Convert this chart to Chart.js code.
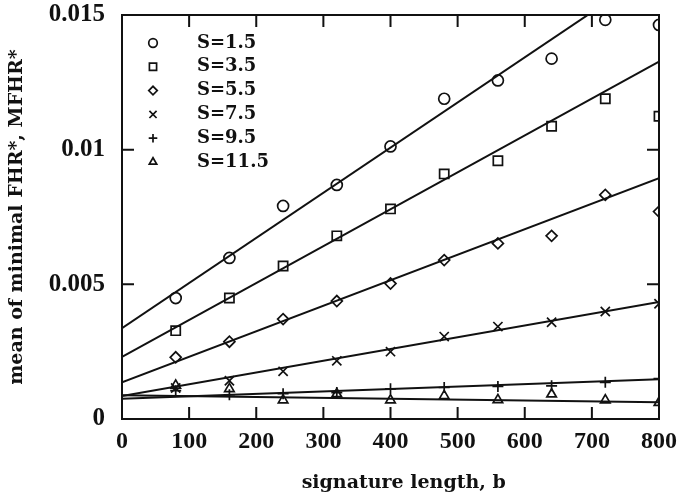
<!DOCTYPE html>
<html>
<head>
<meta charset="utf-8">
<script src="https://cdn.jsdelivr.net/npm/chart.js@4.4.0/dist/chart.umd.min.js"></script>
<style>
  html, body { margin: 0; padding: 0; background: #fff; }
  #wrap { width: 678px; height: 499px; }
</style>
</head>
<body>
<div id="wrap"><canvas id="chart-mfhr"></canvas></div>
<script>
// signature length b
var bValues = [80, 160, 240, 320, 400, 480, 560, 640, 720, 800];

// measured mean of minimal FHR*, one list per S
var s15 = [0.00449, 0.00598, 0.00791, 0.00869, 0.01012, 0.01189, 0.01257, 0.01338, 0.01482, 0.01463];
var s35 = [0.00328, 0.00449, 0.00568, 0.00680, 0.00780, 0.00910, 0.00959, 0.01087, 0.01189, 0.01124];
var s55 = [0.00229, 0.00287, 0.00371, 0.00438, 0.00503, 0.00590, 0.00652, 0.00680, 0.00832, 0.00770];
var s75 = [0.00115, 0.00142, 0.00177, 0.00216, 0.00250, 0.00306, 0.00343, 0.00359, 0.00399, 0.00428];
var s95 = [0.00105, 0.00090, 0.00094, 0.00098, 0.00112, 0.00117, 0.00121, 0.00123, 0.00136, 0.00150];
var s115 = [0.00125, 0.00112, 0.00070, 0.00093, 0.00070, 0.00086, 0.00071, 0.00092, 0.00070, 0.00061];

// fitted lines, value at b=0 and at b=800
var fitB = [0, 800];
var fit15 = [0.00337, 0.01678];
var fit35 = [0.00231, 0.01327];
var fit55 = [0.00136, 0.00894];
var fit75 = [0.00085, 0.00434];
var fit95 = [0.00075, 0.00148];
var fit115 = [0.00088, 0.00062];

var seriesLabels = ['S=1.5', 'S=3.5', 'S=5.5', 'S=7.5', 'S=9.5', 'S=11.5'];
var markers = ['circle', 'rect', 'rectRot', 'crossRot', 'cross', 'triangle'];
var markerSize = [5.5, 6.5, 5.5, 6.5, 5.5, 5.5];

function pts(xs, ys) {
    return xs.map(function (x, i) { return { x: x, y: ys[i] }; });
}

var ink = '#111';
var measured = [s15, s35, s55, s75, s95, s115];
var fits = [fit15, fit35, fit55, fit75, fit95, fit115];
var datasets = [];

fits.forEach(function (f) {
    datasets.push({
        data: pts(fitB, f),
        showLine: true,
        borderColor: ink,
        borderWidth: 2,
        pointRadius: 0,
        fill: false
    });
});
measured.forEach(function (s, i) {
    datasets.push({
        label: seriesLabels[i],
        data: pts(bValues, s),
        showLine: false,
        pointStyle: markers[i],
        pointRadius: markerSize[i],
        borderColor: ink,
        backgroundColor: 'rgba(0,0,0,0)',
        borderWidth: 1.7
    });
});

// box around the plot and inward tick marks
var frame = {
    id: 'frame',
    afterDraw: function (chart) {
        var c = chart.ctx, a = chart.chartArea;
        var xs = chart.scales.x, ys = chart.scales.y;
        var len = 12;
        c.save();
        c.strokeStyle = ink;
        c.lineWidth = 2;
        c.strokeRect(a.left, a.top, a.right - a.left, a.bottom - a.top);
        c.beginPath();
        xs.ticks.forEach(function (t) {
            var px = xs.getPixelForValue(t.value);
            c.moveTo(px, a.bottom); c.lineTo(px, a.bottom - len);
            c.moveTo(px, a.top); c.lineTo(px, a.top + len);
        });
        ys.ticks.forEach(function (t) {
            var py = ys.getPixelForValue(t.value);
            c.moveTo(a.left, py); c.lineTo(a.left + len, py);
            c.moveTo(a.right, py); c.lineTo(a.right - len, py);
        });
        c.stroke();
        c.restore();
    }
};

// legend in the top left corner of the plot
var cornerLegend = {
    id: 'cornerLegend',
    afterDatasetsDraw: function (chart) {
        var c = chart.ctx, a = chart.chartArea;
        var drawPoint = Chart.helpers && Chart.helpers.drawPoint;
        var row = 0;
        c.save();
        c.font = 'bold 18px "DejaVu Serif"';
        c.textBaseline = 'middle';
        c.strokeStyle = ink;
        chart.data.datasets.forEach(function (ds) {
            if (!ds.label) return;
            var y = a.top + 28 + row * 23.8;
            var x = a.left + 31;
            c.lineWidth = ds.borderWidth;
            c.fillStyle = 'rgba(0,0,0,0)';
            if (drawPoint) {
                drawPoint(c, { pointStyle: ds.pointStyle, radius: ds.pointRadius * 0.78, rotation: 0, borderWidth: ds.borderWidth }, x, y);
            }
            c.fillStyle = ink;
            c.fillText(ds.label, a.left + 75, y);
            row++;
        });
        c.restore();
    }
};

// keep the plot box where the figure has it, not where the labels push it
function noPad(s) {
    s.paddingTop = 0;
    s.paddingBottom = 0;
    s.paddingLeft = 0;
    s.paddingRight = 0;
}

new Chart(document.getElementById('chart-mfhr'), {
    type: 'scatter',
    data: { datasets: datasets },
    options: {
        responsive: true,
        maintainAspectRatio: false,
        animation: false,
        events: [],
        layout: { autoPadding: false, padding: { top: 15, right: 19, left: 0, bottom: 0 } },
        plugins: { legend: { display: false }, tooltip: { enabled: false } },
        scales: {
            x: {
                type: 'linear',
                min: 0,
                max: 800,
                afterFit: function (s) { s.height = 80; noPad(s); },
                grid: { display: false, drawTicks: false },
                border: { display: false },
                ticks: {
                    stepSize: 100,
                    padding: 8,
                    color: ink,
                    font: { family: '"Liberation Serif"', size: 24, weight: 'bold' }
                },
                title: {
                    display: true,
                    text: '\u00a0\u00a0\u00a0\u00a0signature length, b',
                    color: ink,
                    padding: { top: 0, bottom: 5 },
                    font: { family: '"DejaVu Serif"', size: 19, weight: 'bold' }
                }
            },
            y: {
                type: 'linear',
                min: 0,
                max: 0.015,
                afterFit: function (s) { s.width = 122; noPad(s); },
                grid: { display: false, drawTicks: false },
                border: { display: false },
                ticks: {
                    stepSize: 0.005,
                    padding: 17,
                    color: ink,
                    font: { family: '"Liberation Serif"', size: 25, weight: 'bold' },
                    callback: function (v) { return String(+v.toFixed(3)); }
                },
                title: {
                    display: true,
                    text: 'mean of minimal FHR*, MFHR*',
                    color: ink,
                    padding: { top: 6, bottom: 0 },
                    font: { family: '"DejaVu Serif"', size: 19, weight: 'bold' }
                }
            }
        }
    },
    plugins: [frame, cornerLegend]
});
</script>
</body>
</html>
